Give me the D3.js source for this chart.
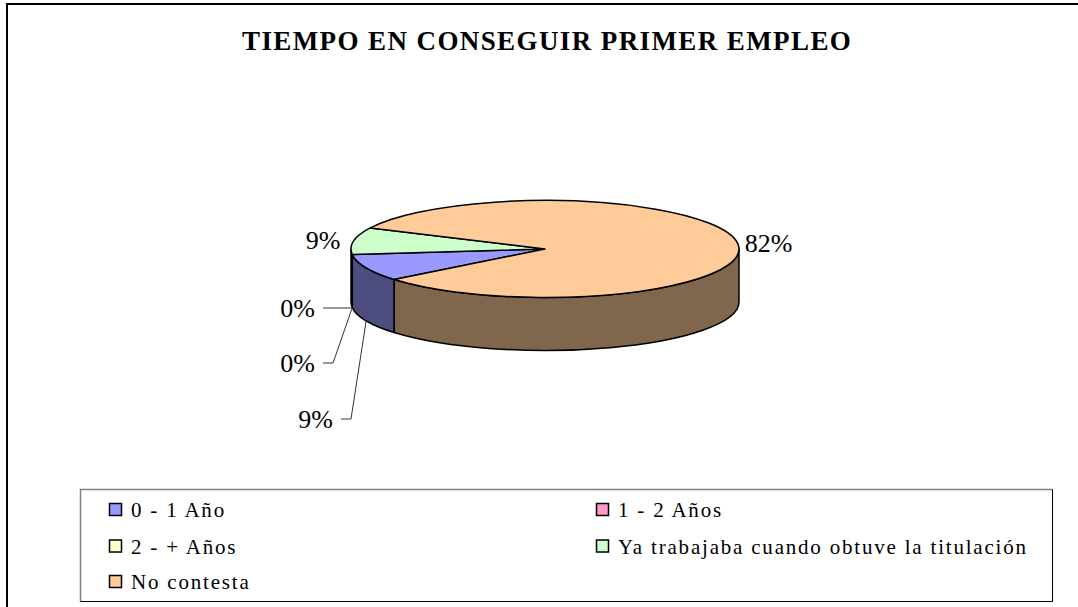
<!DOCTYPE html>
<html>
<head>
<meta charset="utf-8">
<script src="https://cdn.jsdelivr.net/npm/d3@7"></script>
<style>
  html, body { margin: 0; padding: 0; background: #fff; }
  svg { display: block; }
</style>
</head>
<body>
<svg id="chart" width="1078" height="607" font-family="'Liberation Serif', 'Times New Roman', Times, 'DejaVu Serif', serif"></svg>
<script>
// ---- data ----
const title = "TIEMPO EN CONSEGUIR PRIMER EMPLEO";
const categories = ["0 - 1 Año", "1 - 2 Años", "2 - + Años", "Ya trabajaba cuando obtuve la titulación", "No contesta"];
const values = [9, 0, 0, 9, 82];
const percentLabels = ["9%", "0%", "0%", "9%", "82%"];
const topColors = ["#9999FF", "#FF99CC", "#FFFFCC", "#CCFFCC", "#FFCC99"];
const sideColors = ["#4D4D80", "#804D66", "#808066", "#668066", "#80664D"];

// ---- layout ----
const W = 1078, H = 607;
const cx = 545, cy = 249, rx = 194, ry = 48.5, depth = 53;
const firstSliceAngle = 231 * Math.PI / 180; // d3 convention: 0 at 12 o'clock, clockwise
const FONT = "'Liberation Serif', 'Times New Roman', Times, 'DejaVu Serif', serif";

const svg = d3.select("#chart");

// outer frame (cut by right/bottom edge)
svg.append("rect").attr("x", 7).attr("y", 4).attr("width", W + 20).attr("height", H + 20)
  .attr("fill", "#fff").attr("stroke", "#000").attr("stroke-width", 2);

// title
svg.append("text").attr("x", 242).attr("y", 50)
  .attr("font-family", FONT)
  .attr("font-size", 27).attr("font-weight", "bold").attr("letter-spacing", 1.4)
  .attr("fill", "#000").text(title);

// pie geometry via d3.pie
const pie = d3.pie().sort(null).value(d => d)
  .startAngle(firstSliceAngle).endAngle(firstSliceAngle + 2 * Math.PI);
const arcs = pie(values);

// projection of angle (d3 convention) onto ellipse
const sx = d3.scaleLinear().domain([-1, 1]).range([cx - rx, cx + rx]);
const sy = d3.scaleLinear().domain([-1, 1]).range([cy - ry, cy + ry]);
function pt(a, dz = 0) {
  const t = a - Math.PI / 2; // screen angle
  return [sx(Math.cos(t)), sy(Math.sin(t)) + dz];
}

const g = svg.append("g");

// side walls: visible front half is screen angle [0, PI] => d3 angle [PI/2, 3PI/2] (mod 2PI)
const sides = [];
arcs.forEach((d, i) => {
  if (d.endAngle - d.startAngle <= 0) return;
  for (let k = -2; k <= 2; k++) {
    const lo = Math.PI / 2 + k * 2 * Math.PI, hi = 3 * Math.PI / 2 + k * 2 * Math.PI;
    const s0 = Math.max(d.startAngle, lo), s1 = Math.min(d.endAngle, hi);
    if (s1 > s0 + 1e-6) sides.push({ i, s0, s1 });
  }
});
g.selectAll("path.side").data(sides).join("path")
  .attr("class", "side")
  .attr("d", s => {
    const a = pt(s.s0), b = pt(s.s1), c = pt(s.s1, depth), e = pt(s.s0, depth);
    return `M${a[0]},${a[1]} A${rx},${ry} 0 0 1 ${b[0]},${b[1]} L${c[0]},${c[1]} A${rx},${ry} 0 0 0 ${e[0]},${e[1]} Z`;
  })
  .attr("fill", s => sideColors[s.i])
  .attr("stroke", "#000").attr("stroke-width", 1.5).attr("stroke-linejoin", "round");

// top faces
g.selectAll("path.top").data(arcs.filter(d => d.endAngle - d.startAngle > 0)).join("path")
  .attr("class", "top")
  .attr("d", d => {
    const a = pt(d.startAngle), b = pt(d.endAngle);
    const large = (d.endAngle - d.startAngle) > Math.PI ? 1 : 0;
    return `M${cx},${cy} L${a[0]},${a[1]} A${rx},${ry} 0 ${large} 1 ${b[0]},${b[1]} Z`;
  })
  .attr("fill", d => topColors[d.index])
  .attr("stroke", "#000").attr("stroke-width", 1.5).attr("stroke-linejoin", "round");

// ---- percentage labels ----
const labelFont = 26;
const outerK = 1.16;
[3, 4].forEach(i => {
  const d = arcs[i];
  const m = (d.startAngle + d.endAngle) / 2 - Math.PI / 2;
  const x = cx + rx * outerK * Math.cos(m);
  const y = cy + ry * outerK * Math.sin(m);
  svg.append("text").attr("x", x).attr("y", y + 9).attr("text-anchor", "middle")
    .attr("font-family", FONT)
    .attr("font-size", labelFont).attr("fill", "#000").text(percentLabels[i]);
});

// stacked labels with leader lines (to side-bottom at slice mid-angle)
const stacked = [
  { i: 1, right: 315, cyl: 308, elbow: null },
  { i: 2, right: 315, cyl: 363, elbow: 333 },
  { i: 0, right: 333, cyl: 419, elbow: 351 }
];
stacked.forEach(s => {
  const d = arcs[s.i];
  const anchor = pt((d.startAngle + d.endAngle) / 2, depth);
  svg.append("text").attr("x", s.right).attr("y", s.cyl + 9).attr("text-anchor", "end")
    .attr("font-family", FONT)
    .attr("font-size", labelFont).attr("fill", "#000").text(percentLabels[s.i]);
  const x0 = s.right + 8;
  const pts = s.elbow === null
    ? [[x0, s.cyl], [anchor[0] - 1, s.cyl]]
    : [[x0, s.cyl], [s.elbow, s.cyl], anchor];
  svg.append("path").attr("d", d3.line()(pts))
    .attr("fill", "none").attr("stroke", "#333").attr("stroke-width", 1);
});

// ---- legend ----
const lg = svg.append("g");
lg.append("rect").attr("x", 80.5).attr("y", 489.5).attr("width", 972).attr("height", 112)
  .attr("fill", "#fff").attr("stroke", "#000").attr("stroke-width", 1);
lg.append("path").attr("d", "M80.5,601.5 L80.5,489.5 L1052.5,489.5")
  .attr("fill", "none").attr("stroke", "#808080").attr("stroke-width", 1.5);

const colX = [109, 596];
const rowY = [510, 546.5, 582];
categories.forEach((c, i) => {
  const x = colX[i % 2], y = rowY[Math.floor(i / 2)];
  lg.append("rect").attr("x", x + 0.5).attr("y", y - 6.5).attr("width", 12).attr("height", 12)
    .attr("fill", topColors[i]).attr("stroke", "#000").attr("stroke-width", 1.5);
  lg.append("text").attr("x", x + 22).attr("y", y + 7)
    .attr("font-family", FONT)
    .attr("font-size", 21).attr("letter-spacing", 1.8).attr("fill", "#000").text(c);
});
</script>
</body>
</html>
